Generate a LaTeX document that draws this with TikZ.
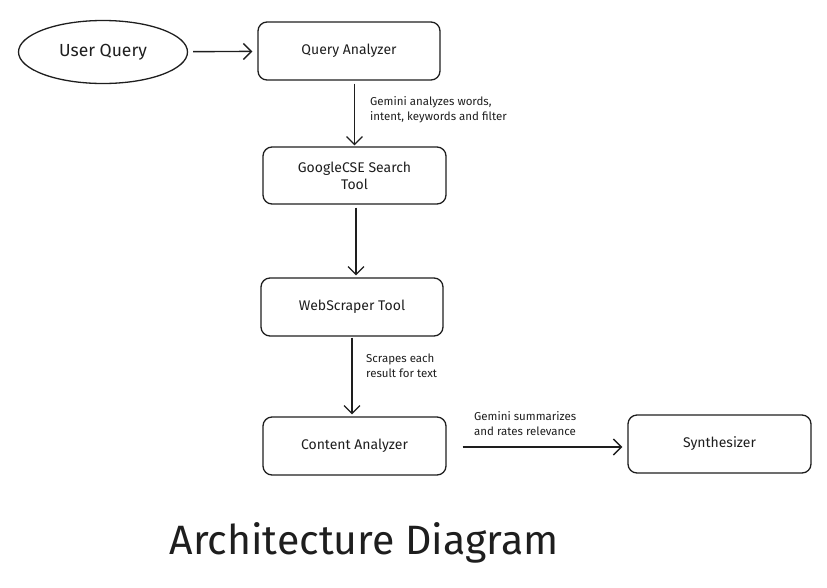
\documentclass[tikz,border=0pt]{standalone}
\usepackage{fontspec}
\setmainfont{Fira Sans}
\usetikzlibrary{arrows.meta}
\usetikzlibrary{shapes.geometric}
\definecolor{ink}{HTML}{1E1E1E}
\tikzset{box/.style={draw=ink, line width=1.3pt, rounded corners=9pt, minimum width=182pt, minimum height=58pt, inner sep=0pt, font=\fontsize{14}{17}\selectfont, text=ink, align=center}}
\tikzset{flow/.style={draw=ink, line width=1.2pt, -{Straight Barb[length=8pt,width=16pt]}}}
\tikzset{note/.style={anchor=north west, inner sep=0pt, align=left, text=ink, font=\fontsize{11.5}{15}\selectfont}}

\begin{document}
\begin{tikzpicture}[x=1pt, y=-1pt]
      \useasboundingbox (0, 0) rectangle (827, 587);
      \node [draw=ink, line width=1.3pt, ellipse, minimum width=169pt, minimum height=63pt, inner sep=0pt, text=ink, font=\fontsize{17.5}{20}\selectfont] (user) at (103, 52) {User Query};
      \node [box] (qa) at (349, 51) {Query Analyzer};
      \node [box, minimum width=183pt, minimum height=57pt] (gcse) at (354.5, 175.5) {GoogleCSE Search\\Tool};
      \node [box] (ws) at (352, 307) {WebScraper Tool};
      \node [box, minimum width=183pt] (ca) at (354.5, 446) {Content Analyzer};
      \node [box, minimum width=183pt] (syn) at (719.5, 444) {Synthesizer};

      \draw [flow, line width=1.4pt, shorten <=5pt, shorten >=5pt] (user) -- (qa);
      \draw [flow, shorten <=3pt, shorten >=1pt] (qa.south -| gcse.north) -- (gcse.north);
      \draw [flow, shorten <=3pt, shorten >=2pt] ([xshift=1.5pt]gcse.south) -- ([xshift=1.5pt]gcse.south |- ws.north);
      \draw [flow, shorten <=1pt, shorten >=2pt] (ws.south) -- (ws.south |- ca.north);
      \draw [flow, line width=1.4pt, shorten <=16pt, shorten >=5pt] ([yshift=-1pt]ca.east) -- ([yshift=-1pt]ca.east -| syn.west);

      \node [note] (noteqa) at (370, 96) {Gemini analyzes words,\\intent, keywords and filter};
      \node [note] (notews) at (366, 354) {Scrapes each\\result for text};
      \node [note] (noteca) at (474, 411) {Gemini summarizes\\and rates relevance};

      \node [text=ink, font=\fontsize{41}{48}\selectfont] (title) at (364, 543) {Architecture Diagram};
\end{tikzpicture}
\end{document}
